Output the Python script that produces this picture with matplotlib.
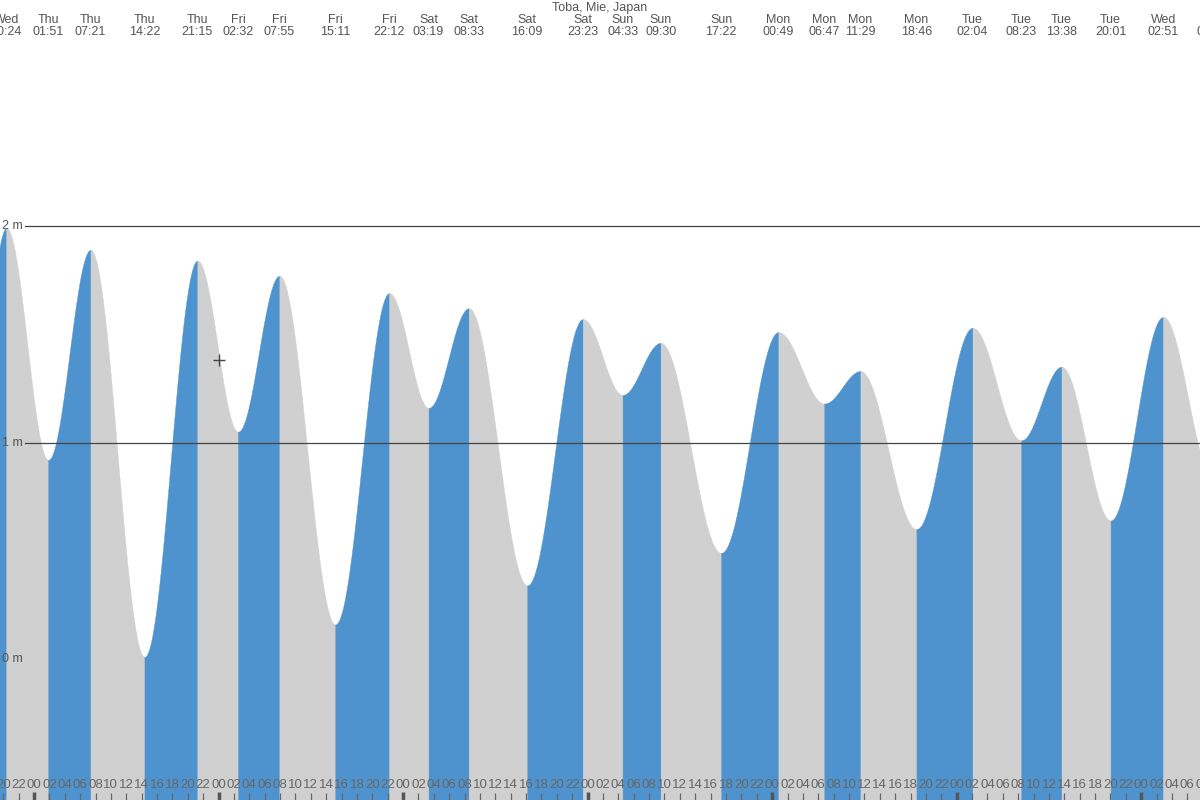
import numpy as np
import matplotlib
matplotlib.use("Agg")
import matplotlib.pyplot as plt
from matplotlib.transforms import blended_transform_factory

plt.rcParams['font.family'] = ['Liberation Sans', 'DejaVu Sans']

title = "Toba, Mie, Japan"
# day offset relative to Thursday 00:00
day_offset = {"Wed0": -1, "Thu": 0, "Fri": 1, "Sat": 2, "Sun": 3, "Mon": 4, "Tue": 5, "Wed1": 6}

extreme_days = ["Wed0", "Wed0", "Thu", "Thu", "Thu", "Thu", "Fri", "Fri", "Fri", "Fri",
                "Sat", "Sat", "Sat", "Sat", "Sun", "Sun", "Sun", "Mon", "Mon", "Mon",
                "Mon", "Tue", "Tue", "Tue", "Tue", "Wed1", "Wed1"]
extreme_times = ["13:50", "20:24", "01:51", "07:21", "14:22", "21:15", "02:32", "07:55", "15:11", "22:12",
                 "03:19", "08:33", "16:09", "23:23", "04:33", "09:30", "17:22", "00:49", "06:47", "11:29",
                 "18:46", "02:04", "08:23", "13:38", "20:01", "02:51", "09:15"]
extreme_heights = [-0.05, 1.99, 0.92, 1.89, 0.01, 1.84, 1.05, 1.77, 0.16, 1.69,
                   1.16, 1.62, 0.34, 1.57, 1.22, 1.46, 0.49, 1.51, 1.18, 1.33,
                   0.60, 1.53, 1.01, 1.35, 0.64, 1.58, 0.85]

now_hour = 24.0     # Fri 00:00 marker
now_height = 1.38

def to_hours(d, t):
    h, m = t.split(":")
    return day_offset[d] * 24 + int(h) + int(m) / 60.0

ext_t = np.array([to_hours(d, t) for d, t in zip(extreme_days, extreme_times)])
ext_h = np.array(extreme_heights)

BLUE = "#4f93ce"
GRAY = "#d0d0d0"
TXT = "#555555"

fig = plt.figure(figsize=(12, 8), dpi=100)
ax = fig.add_axes([0, 0, 1, 1])
pxh = 7.689
x0 = -34.0 / pxh
x1 = (1200 - 34.0) / pxh
y_per_px = 1 / 216.5
ybot = (659 - 800) * y_per_px
ytop = 659 * y_per_px
ax.set_xlim(x0, x1)
ax.set_ylim(ybot, ytop)
ax.axis("off")

def curve_between(i):
    ta, tb = ext_t[i], ext_t[i + 1]
    ha, hb = ext_h[i], ext_h[i + 1]
    tt = np.linspace(ta, tb, 200)
    hh = hb + (ha - hb) * (1 + np.cos(np.pi * (tt - ta) / (tb - ta))) / 2
    return tt, hh

for i in range(len(ext_t) - 1):
    tt, hh = curve_between(i)
    col = BLUE if ext_h[i + 1] > ext_h[i] else GRAY
    ax.fill_between(tt, ybot, hh, color=col, lw=0.3, ec=col, zorder=1)

# now marker
ax.plot([now_hour], [now_height], marker="+", ms=9, color="#444444", mew=1, zorder=5)

# horizontal level lines
for lvl in [1, 2]:
    ax.axhline(lvl, xmin=25 / 1200, xmax=1, color="#444444", lw=0.9, zorder=3)
trans_y = blended_transform_factory(fig.transFigure, ax.transData)
for lvl in [0, 1, 2]:
    ax.text(23 / 1200, lvl, f"{lvl} m", transform=trans_y, ha="right", va="center",
            fontsize=9, color=TXT, zorder=4)

# top labels
trans_x = blended_transform_factory(ax.transData, fig.transFigure)
for d, t, th in zip(extreme_days, extreme_times, ext_t):
    name = d[:3]
    ax.text(th, 1 - 20 / 800, name, transform=trans_x, ha="center", va="center",
            fontsize=9, color=TXT, clip_on=False)
    ax.text(th, 1 - 32 / 800, t, transform=trans_x, ha="center", va="center",
            fontsize=9, color=TXT, clip_on=False)
fig.text(600 / 1200, 1 - 8 / 800, title, ha="center", va="center", fontsize=9, color=TXT)

# bottom hour labels and ticks
for h in range(-6, 154, 2):
    lab = f"{h % 24:02d}"
    ax.text(h, 1 - 785 / 800, lab, transform=trans_x, ha="center", va="center",
            fontsize=9.5, color="#666666", zorder=4)
    if h % 24 == 0:
        ax.plot([h, h], [1 - 792 / 800, 0], transform=trans_x, color="#555555",
                lw=2.5, solid_capstyle="butt", zorder=4)
    else:
        ax.plot([h, h], [1 - 793 / 800, 0], transform=trans_x, color="#666666",
                lw=0.9, solid_capstyle="butt", zorder=4)

fig.savefig("out.png", dpi=100)
